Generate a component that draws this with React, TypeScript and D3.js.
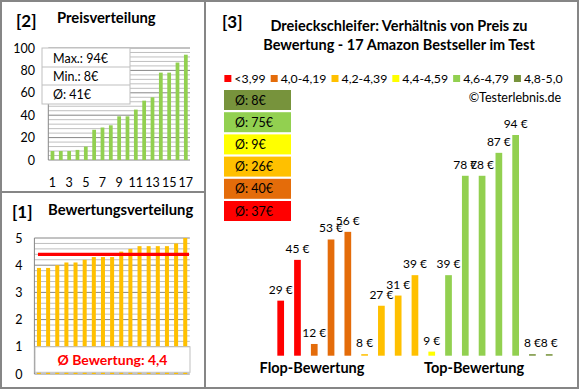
import React, { useEffect, useRef } from 'react';
import * as d3 from 'd3';

// sorted values of the 17 products
const sortedPrices = [8, 8, 8, 9, 12, 27, 29, 31, 39, 39, 45, 53, 56, 78, 78, 87, 94];
const sortedRatings = [3.9, 3.9, 4.0, 4.1, 4.1, 4.2, 4.3, 4.3, 4.3, 4.5, 4.6, 4.7, 4.7, 4.7, 4.7, 4.8, 5.0];
const rankTickLabels = [1, 3, 5, 7, 9, 11, 13, 15, 17];
const priceTicks = [0, 20, 40, 60, 80, 100];
const ratingTicks = [0, 1, 2, 3, 4, 5];
const priceSummary = ['Max.: 94€', 'Min.: 8€', 'Ø: 41€'];
const ratingAverage = 4.4;
const ratingAverageLabel = 'Ø Bewertung: 4,4';

// rating groups
const groupLabels = ['<3,99', '4,0-4,19', '4,2-4,39', '4,4-4,59', '4,6-4,79', '4,8-5,0'];
const groupColors = ['#FF0000', '#E46C0A', '#FFC000', '#FFFF00', '#92D050', '#77933C'];
const groupAverageLabels = ['Ø: 37€', 'Ø: 40€', 'Ø: 26€', 'Ø: 9€', 'Ø: 75€', 'Ø: 8€'];

// price per product, ordered from flop to top rating
const barPrices = [29, 45, 12, 53, 56, 8, 27, 31, 39, 9, 39, 78, 78, 87, 94, 8, 8];
const barGroups = [0, 0, 1, 1, 1, 2, 2, 2, 2, 3, 4, 4, 4, 4, 4, 5, 5];

const W = 580;
const H = 390;
const FONT = 'Lato, "Noto Sans", sans-serif';
const MAJOR = '#868686';
const MINOR = '#BFBFBF';

export default function App() {
  const svgRef = useRef<SVGSVGElement>(null);

  useEffect(() => {
    if (!svgRef.current) return;
    const svg = d3.select(svgRef.current);
    svg.selectAll('*').remove();
    svg.style('font-family', FONT);

    svg.append('rect').attr('width', W).attr('height', H).attr('fill', '#fff');

    // ---------- [2] Preisverteilung ----------
    const xP = d3.scaleBand<number>().domain(d3.range(sortedPrices.length))
      .range([48.3, 190]).paddingInner(0.55).paddingOuter(0.275);
    const yP = d3.scaleLinear().domain([0, 100]).range([160, 48]);

    const pg = svg.append('g');
    pg.selectAll('line.minor')
      .data(d3.range(0, 101, 4).filter(v => v % 20 !== 0))
      .enter().append('line')
      .attr('x1', 48.3).attr('x2', 190)
      .attr('y1', d => yP(d)).attr('y2', d => yP(d))
      .attr('stroke', MINOR).attr('stroke-width', 1);
    pg.selectAll('line.major')
      .data(priceTicks)
      .enter().append('line')
      .attr('x1', 48.3).attr('x2', 190)
      .attr('y1', d => yP(d)).attr('y2', d => yP(d))
      .attr('stroke', MAJOR).attr('stroke-width', 1);
    pg.append('line').attr('x1', 48.3).attr('x2', 48.3).attr('y1', 48).attr('y2', 160)
      .attr('stroke', MAJOR);

    pg.selectAll('rect.bar')
      .data(sortedPrices)
      .enter().append('rect')
      .attr('x', (_, i) => xP(i)!)
      .attr('width', xP.bandwidth())
      .attr('y', d => yP(d))
      .attr('height', d => yP(0) - yP(d))
      .attr('fill', '#92D050');

    pg.selectAll('text.ytick')
      .data(priceTicks)
      .enter().append('text')
      .attr('x', 35).attr('y', d => yP(d) + 4.5)
      .attr('text-anchor', 'end')
      .style('font-size', '12.5px')
      .text(d => d);

    pg.selectAll('text.xtick')
      .data(rankTickLabels)
      .enter().append('text')
      .attr('x', d => xP(d - 1)! + xP.bandwidth() / 2)
      .attr('y', 187)
      .attr('text-anchor', 'middle')
      .style('font-size', '12.5px')
      .text(d => d);

    // summary box
    const sb = pg.append('g');
    sb.append('rect').attr('x', 42).attr('y', 48).attr('width', 88).attr('height', 56)
      .attr('fill', '#fff').attr('stroke', MINOR);
    [67, 85].forEach(y => sb.append('line').attr('x1', 42).attr('x2', 130)
      .attr('y1', y).attr('y2', y).attr('stroke', MINOR));
    sb.selectAll('text')
      .data(priceSummary)
      .enter().append('text')
      .attr('x', 53).attr('y', (_, i) => 63 + i * 18)
      .style('font-size', '12.5px')
      .text(d => d);

    svg.append('text').attr('x', 16).attr('y', 27).style('font-size', '17px')
      .style('font-weight', 'bold').text('[2]');
    svg.append('text').attr('x', 57).attr('y', 23).style('font-size', '14.8px')
      .style('font-weight', 'bold').text('Preisverteilung');

    // ---------- [1] Bewertungsverteilung ----------
    const xR = d3.scaleBand<number>().domain(d3.range(sortedRatings.length))
      .range([34.4, 189.8]).paddingInner(0.56).paddingOuter(0.28);
    const yR = d3.scaleLinear().domain([0, 5]).range([374, 238]);

    const rg = svg.append('g');
    rg.selectAll('line.minor')
      .data(d3.range(0, 26).map(i => i / 5).filter(v => Math.abs(v - Math.round(v)) > 0.01))
      .enter().append('line')
      .attr('x1', 34.4).attr('x2', 189.8)
      .attr('y1', d => yR(d)).attr('y2', d => yR(d))
      .attr('stroke', MINOR);
    rg.selectAll('line.major')
      .data(ratingTicks)
      .enter().append('line')
      .attr('x1', 34.4).attr('x2', 189.8)
      .attr('y1', d => yR(d)).attr('y2', d => yR(d))
      .attr('stroke', MAJOR);
    rg.append('line').attr('x1', 34.4).attr('x2', 34.4).attr('y1', 238).attr('y2', 374)
      .attr('stroke', MAJOR);

    rg.selectAll('rect.bar')
      .data(sortedRatings)
      .enter().append('rect')
      .attr('x', (_, i) => xR(i)!)
      .attr('width', xR.bandwidth())
      .attr('y', d => yR(d))
      .attr('height', d => yR(0) - yR(d))
      .attr('fill', '#FFC000');

    rg.append('line')
      .attr('x1', 38).attr('x2', 189)
      .attr('y1', yR(ratingAverage)).attr('y2', yR(ratingAverage))
      .attr('stroke', '#FF0000').attr('stroke-width', 3.3);

    rg.append('rect').attr('x', 35).attr('y', yR(1)).attr('width', 155).attr('height', 25.5)
      .attr('fill', '#fff').attr('stroke', MINOR);
    rg.append('text').attr('x', 112.5).attr('y', 365)
      .attr('text-anchor', 'middle').attr('fill', '#FF0000')
      .style('font-size', '14px').style('font-weight', 'bold')
      .text(ratingAverageLabel);

    rg.selectAll('text.ytick')
      .data(ratingTicks)
      .enter().append('text')
      .attr('x', 22.5).attr('y', d => yR(d) + 4.5)
      .attr('text-anchor', 'end')
      .style('font-size', '12.5px')
      .text(d => d);

    svg.append('text').attr('x', 12).attr('y', 218).style('font-size', '17px')
      .style('font-weight', 'bold').text('[1]');
    svg.append('text').attr('x', 48).attr('y', 215).style('font-size', '14.8px')
      .style('font-weight', 'bold').text('Bewertungsverteilung');

    // ---------- [3] Preis zu Bewertung ----------
    const xB = d3.scaleBand<number>().domain(d3.range(barPrices.length))
      .range([272.3, 557.6]).paddingInner(0.6).paddingOuter(0.3);
    const yB = d3.scaleLinear().domain([7.4, 94]).range([355.7, 135]);

    const bg = svg.append('g');
    bg.selectAll('rect.bar')
      .data(barPrices)
      .enter().append('rect')
      .attr('x', (_, i) => xB(i)!)
      .attr('width', xB.bandwidth())
      .attr('y', d => yB(d))
      .attr('height', d => yB(7.4) - yB(d))
      .attr('fill', (_, i) => groupColors[barGroups[i]]);
    bg.selectAll('text.val')
      .data(barPrices)
      .enter().append('text')
      .attr('x', (_, i) => xB(i)! + xB.bandwidth() / 2)
      .attr('y', d => yB(d) - 7)
      .attr('text-anchor', 'middle')
      .style('font-size', '12px')
      .text(d => `${d} €`);

    svg.append('text').attr('x', 222).attr('y', 28).style('font-size', '17px')
      .style('font-weight', 'bold').text('[3]');
    ['Dreieckschleifer: Verhältnis von Preis zu', 'Bewertung - 17 Amazon Bestseller im Test']
      .forEach((t, i) => svg.append('text').attr('x', 399).attr('y', 31 + i * 19)
        .attr('text-anchor', 'middle').style('font-size', '14.5px')
        .style('font-weight', 'bold').text(t));

    // legend row, laid out by measured text width and centred
    const lg = svg.append('g');
    let lx = 0;
    groupLabels.forEach((label, i) => {
      lg.append('rect').attr('x', lx).attr('y', 75).attr('width', 7).attr('height', 7)
        .attr('fill', groupColors[i]);
      const t = lg.append('text').attr('x', lx + 10).attr('y', 83)
        .style('font-size', '12.3px').text(label);
      lx += 10 + (t.node() as SVGTextElement).getComputedTextLength() + 5;
    });
    lg.attr('transform', `translate(${393.5 - (lx - 5) / 2},0)`);

    svg.append('text').attr('x', 561).attr('y', 102).attr('text-anchor', 'end')
      .style('font-size', '12.5px').text('©Testerlebnis.de');

    // average boxes, top = best group
    const order = d3.range(groupLabels.length).reverse();
    const ab = svg.append('g');
    order.forEach((g, k) => {
      const y = 90 + k * 22.2;
      ab.append('rect').attr('x', 224).attr('y', y).attr('width', 67).attr('height', 20)
        .attr('fill', groupColors[g]);
      ab.append('text').attr('x', 235).attr('y', y + 14.5)
        .style('font-size', '12.5px').text(groupAverageLabels[g]);
    });

    svg.append('text').attr('x', 312).attr('y', 373).attr('text-anchor', 'middle')
      .style('font-size', '14.5px').style('font-weight', 'bold').text('Flop-Bewertung');
    svg.append('text').attr('x', 474).attr('y', 373).attr('text-anchor', 'middle')
      .style('font-size', '14.5px').style('font-weight', 'bold').text('Top-Bewertung');

    // panel frames
    const fr = svg.append('g').attr('fill', 'none').attr('stroke', MAJOR).attr('stroke-width', 2);
    fr.append('rect').attr('x', 1).attr('y', 1).attr('width', 577).attr('height', 387);
    fr.append('line').attr('x1', 205).attr('x2', 205).attr('y1', 1).attr('y2', 388);
    fr.append('line').attr('x1', 1).attr('x2', 205).attr('y1', 192).attr('y2', 192);
  }, []);

  return (
    <div style={{ position: 'fixed', left: 0, top: 0 }}>
      <svg ref={svgRef} width={W} height={H} style={{ display: 'block' }} />
    </div>
  );
}
